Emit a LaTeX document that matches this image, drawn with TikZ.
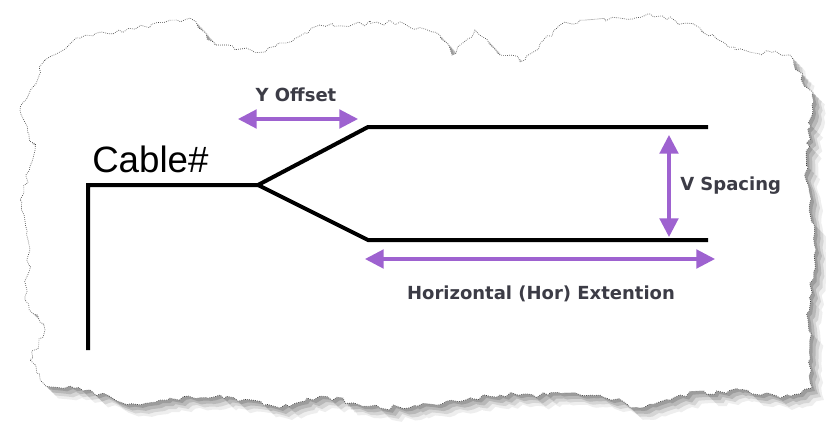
\documentclass[tikz,border=0pt]{standalone}
\usepackage{fontspec}
\setmainfont{Liberation Sans}
\newfontfamily\dimfont{DejaVu Sans}
\usetikzlibrary{arrows.meta,decorations.pathmorphing}

\definecolor{dimpurple}{RGB}{158,98,208}
\definecolor{dimtext}{RGB}{60,60,70}

\begin{document}
\begin{tikzpicture}[
    x=0.75pt, y=-0.75pt,
    cableline/.style={black, line width=3pt, line join=miter},
    dimarrow/.style={dimpurple, line width=2.3pt,
        {Triangle[length=14pt,width=14pt]}-{Triangle[length=14pt,width=14pt]}},
    dimlabel/.style={font=\dimfont\bfseries\fontsize{13.5}{15}\selectfont, text=dimtext, inner sep=0pt},
    cablelabel/.style={font=\fontsize{27.5}{30}\selectfont, inner sep=0pt},
    tornedge/.style={decorate, decoration={random steps, segment length=4pt, amplitude=2pt}},
]

\useasboundingbox (0,0) rectangle (826,425);

% ── Torn paper ──────────────────────────────────────────────
\def\paperpath{(45,60) -- (80,38) -- (190,18) -- (215,45) -- (265,52)
    -- (320,25) -- (400,22) -- (440,35) -- (452,55) -- (475,30) -- (500,55)
    -- (525,60) -- (560,25) -- (620,18) -- (650,14) -- (700,28) -- (735,50)
    -- (790,55) -- (812,95) -- (806,180) -- (816,250) -- (808,320) -- (812,388)
    -- (780,398) -- (740,390) -- (680,395) -- (640,408) -- (600,395)
    -- (500,395) -- (430,404) -- (380,408) -- (320,396) -- (280,408)
    -- (220,395) -- (160,400) -- (130,404) -- (70,386) -- (45,385)
    -- (30,360) -- (45,330) -- (25,300) -- (30,250) -- (20,200)
    -- (35,150) -- (20,110) -- cycle}
\foreach \d/\op in {12/0.12, 9/0.2, 6/0.3, 3/0.4} {
    \pgfmathsetseed{11}
    \fill[black!55, opacity=\op, tornedge, shift={(\d,\d)}] \paperpath;
}
\pgfmathsetseed{11}
\filldraw[fill=white, draw=black!75, line width=0.5pt, densely dotted, tornedge] \paperpath;

% ── Cable ───────────────────────────────────────────────────
\coordinate (base)   at (88,350);
\coordinate (corner) at (88,185);
\coordinate (split)  at (258,185);
\coordinate (upin)   at (368,127);
\coordinate (upout)  at (708,127);
\coordinate (loin)   at (368,240);
\coordinate (loout)  at (708,240);

\draw[cableline] (base) -- (corner) -- (split) -- (upin) -- (upout);
\draw[cableline] (split) -- (loin) -- (loout);

\node[cablelabel, anchor=base west] (cable) at (92,172) {Cable\#};

% ── Dimensions ──────────────────────────────────────────────
% Y offset
\coordinate (yoffl) at (238,119);
\coordinate (yoffr) at (358,119);
\draw[dimarrow] (yoffl) -- (yoffr);
\node[dimlabel] (yoff) at (296,95) {Y Offset};

% V spacing
\coordinate (vspt) at (669,135);
\coordinate (vspb) at (669,237);
\draw[dimarrow] (vspt) -- (vspb);
\node[dimlabel, anchor=west] (vsp) at (680,186) {V Spacing};

% Horizontal extension
\coordinate (hextl) at (365,259);
\coordinate (hextr) at (715,259);
\draw[dimarrow] (hextl) -- (hextr);
\node[dimlabel] (hext) at (541,294) {Horizontal (Hor) Extention};

\end{tikzpicture}
\end{document}
